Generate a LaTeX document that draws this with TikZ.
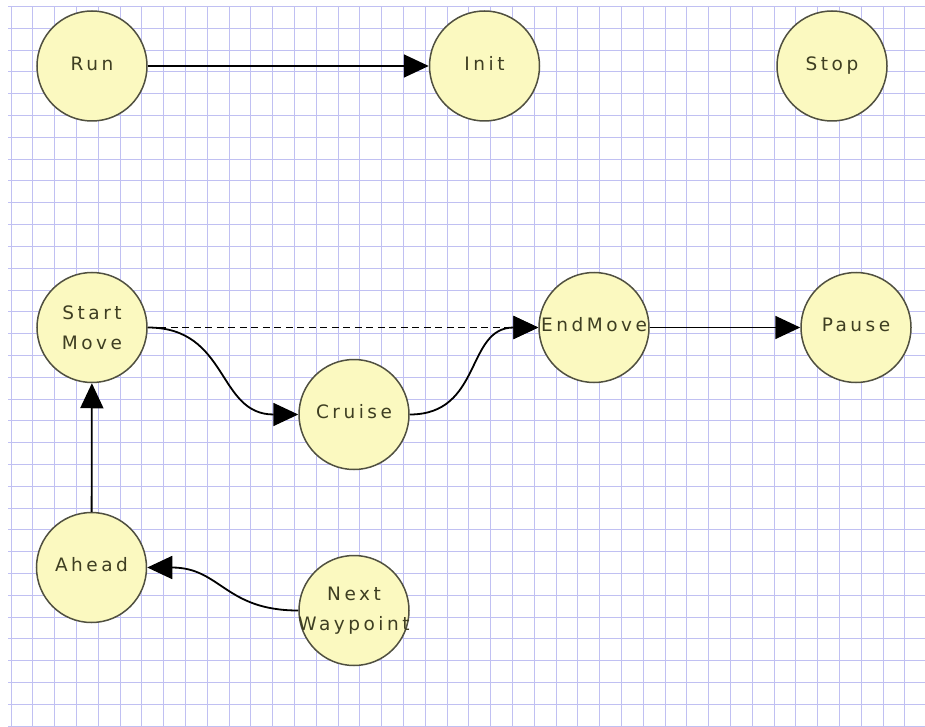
\documentclass[tikz,border=0pt]{standalone}
\usepackage{fontspec}
\newfontfamily\lblfont[LetterSpace=19]{DejaVu Sans}
\usetikzlibrary{arrows.meta}
\definecolor{gridc}{RGB}{192,192,242}
\definecolor{nodefill}{RGB}{251,249,192}
\definecolor{nodeline}{RGB}{80,80,64}
\definecolor{txt}{RGB}{62,62,34}
\begin{document}
\begin{tikzpicture}[x=1pt,y=-1pt,
  state/.style={circle, draw=nodeline, fill=nodefill, line width=1.5pt,
    minimum size=110pt, inner sep=0pt, text=txt, align=center,
    font=\lblfont\fontsize{18.5}{30}\selectfont},
  oneline/.style={text height=13.5pt, text depth=5pt},
  conn/.style={draw=black, line width=1.8pt, -{Triangle[length=25pt,width=23pt]}},
  gridline/.style={draw=gridc, line width=1pt}
]
\useasboundingbox[fill=white] (0,0) rectangle (925,727);
% grid
\foreach \i in {0,...,41} \draw[gridline] ({11+21.8*\i},6.6) -- ({11+21.8*\i},727);
\foreach \j in {0,...,33} \draw[gridline] (8,{6.6+21.8*\j}) -- (925,{6.6+21.8*\j});
% states
\node[state, oneline] (run)    at (92,66)      {Run};
\node[state, oneline] (init)   at (484.5,66)   {Init};
\node[state, oneline] (stop)   at (832,66)     {Stop};
\node[state]          (start)  at (92,327.5)   {Start\\Move};
\node[state, oneline] (endm)   at (594,327.5)  {EndMove};
\node[state, oneline] (pause)  at (856,327.5)  {Pause};
\node[state, oneline] (cruise) at (354,414.5)  {Cruise};
\node[state, oneline] (ahead)  at (91.5,567.5) {Ahead};
\node[state]          (nextw)  at (354,610.5)  {Next\\\makebox[0pt]{Waypoint}};
% connectors
\draw[conn] (run) -- (init);
\draw[conn, dash pattern=on 7pt off 4.5pt] (start) -- (endm);
\draw[conn] (start.east) to[out=0,in=180,looseness=1.2] (cruise.west);
\draw[conn] (cruise.east) to[out=0,in=180,looseness=1.2] (endm.west);
\draw[conn] (endm) -- (pause);
\draw[conn] (ahead) -- (start);
\draw[conn] (nextw.west) to[out=180,in=0,looseness=1.2] (ahead.east);
\end{tikzpicture}
\end{document}
